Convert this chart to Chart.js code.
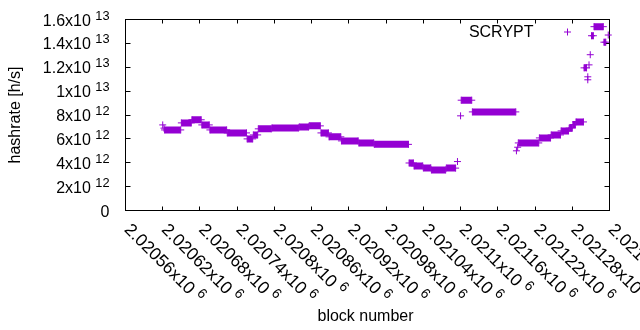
<!DOCTYPE html>
<html><head><meta charset="utf-8">
<script src="https://cdn.jsdelivr.net/npm/chart.js@4"></script>
<style>html,body{margin:0;padding:0;background:#fff}#wrap{width:640px;height:330px}canvas{display:block}</style>
</head><body>
<div id="wrap"><canvas id="c" width="640" height="330"></canvas></div>
<script>
// ---- data (hashrate in units of 1e12 h/s) ----
const seriesName = "SCRYPT";
const segStart = [2020620,2020622,2020623,2020650,2020667,2020683,2020696,2020724,2020756,2020766,
  2020774,2020796,2020840,2020856,2020875,2020888,2020908,2020936,2020961,2021017,
  2021025,2021040,2021053,2021077,2021095,2021100,2021101,2021119,2021190,2021192,
  2021193,2021227,2021246,2021262,2021275,2021281,2021286,2021299,2021305,2021305,
  2021307,2021309,2021311,2021315,2021331,2021338];
const segEnd = [2020620,2020622,2020649,2020666,2020682,2020695,2020723,2020755,2020765,2020773,
  2020795,2020839,2020855,2020874,2020887,2020907,2020935,2020960,2021016,2021024,
  2021039,2021052,2021076,2021092,2021095,2021100,2021118,2021189,2021190,2021192,
  2021226,2021245,2021261,2021274,2021280,2021285,2021298,2021303,2021305,2021305,
  2021307,2021309,2021314,2021330,2021334,2021338];
const segValue = [7.17,6.9,6.75,7.34,7.6,7.17,6.75,6.5,6.0,6.33,
  6.84,6.92,7.0,7.09,6.5,6.17,5.83,5.66,5.54,3.98,
  3.73,3.57,3.4,3.55,4.1,7.93,9.24,8.26,5.0,5.3,
  5.66,6.08,6.33,6.67,6.9,7.2,7.42,11.95,10.95,11.2,
  12.2,13.05,14.64,15.4,14.1,14.7];
const xTickValues = [2020560,2020620,2020680,2020740,2020800,2020860,2020920,2020980,2021040,2021100,2021160,2021220,2021280,2021340];
const xTickLabels = ["2.02056x10","2.02062x10","2.02068x10","2.02074x10","2.0208x10","2.02086x10","2.02092x10","2.02098x10","2.02104x10","2.0211x10","2.02116x10","2.02122x10","2.02128x10","2.02134x10"];
const xTickExp = "6";
const yTickValues = [0,2,4,6,8,10,12,14,16];
const yTickLabels = ["0","2x10","4x10","6x10","8x10","1x10","1.2x10","1.4x10","1.6x10"];
const yTickExp = ["","12","12","12","12","13","13","13","13"];
const xTitle = "block number";
const yTitle = "hashrate [h/s]";

const PURPLE = "#9400d3";
const FONT = '"Liberation Sans", Arial, sans-serif';
const FS = 16, FSS = 12.8;
const XFS = 17.5, XFSS = 14;

const points = [];
for (let i = 0; i < segStart.length; i++) {
  points.push({x: segStart[i], y: segValue[i]});
  if (segEnd[i] !== segStart[i]) points.push({x: segEnd[i], y: segValue[i]});
  points.push({x: segEnd[i], y: null});
}

const gnuplotFrame = {
  id: 'gnuplotFrame',
  beforeDatasetsDraw(chart) {
    const ctx = chart.ctx, a = chart.chartArea;
    const xs = chart.scales.x, ys = chart.scales.y;
    ctx.save();
    ctx.strokeStyle = '#000'; ctx.lineWidth = 1;
    ctx.strokeRect(a.left, a.top, a.right - a.left, a.bottom - a.top);
    ctx.beginPath();
    xTickValues.forEach(v => {
      const px = Math.floor(xs.getPixelForValue(v)) + 0.5;
      ctx.moveTo(px, a.bottom); ctx.lineTo(px, a.bottom - 4);
      ctx.moveTo(px, a.top); ctx.lineTo(px, a.top + 4);
    });
    yTickValues.forEach(v => {
      const py = Math.floor(ys.getPixelForValue(v)) + 0.5;
      ctx.moveTo(a.left, py); ctx.lineTo(a.left + 5, py);
      ctx.moveTo(a.right, py); ctx.lineTo(a.right - 5, py);
    });
    ctx.stroke();
    ctx.restore();
  },
  afterDraw(chart) {
    const ctx = chart.ctx, a = chart.chartArea;
    const xs = chart.scales.x, ys = chart.scales.y;
    ctx.save();
    ctx.fillStyle = '#000';
    // y tick labels
    yTickValues.forEach((v, i) => {
      const py = ys.getPixelForValue(v);
      const xr = a.left - 16;
      ctx.font = FSS + 'px ' + FONT;
      const we = yTickExp[i] ? ctx.measureText(yTickExp[i]).width : 0;
      if (yTickExp[i]) { ctx.textAlign = 'left'; ctx.textBaseline = 'alphabetic'; ctx.fillText(yTickExp[i], xr - we, py); }
      ctx.font = FS + 'px ' + FONT;
      const wsp = yTickExp[i] ? ctx.measureText(' ').width : 0;
      ctx.textAlign = 'right'; ctx.textBaseline = 'alphabetic';
      ctx.fillText(yTickLabels[i], xr - we - wsp, py + 6);
    });
    // x tick labels (rotated)
    xTickValues.forEach((v, i) => {
      const px = xs.getPixelForValue(v);
      ctx.save();
      ctx.translate(px - 2, a.bottom + 20);
      ctx.rotate(Math.PI / 4);
      ctx.textAlign = 'left'; ctx.textBaseline = 'alphabetic';
      ctx.font = XFS + 'px ' + FONT;
      ctx.fillText(xTickLabels[i], 0, 0);
      const w = ctx.measureText(xTickLabels[i] + ' ').width;
      ctx.font = XFSS + 'px ' + FONT;
      ctx.fillText(xTickExp, w, -6.5);
      ctx.restore();
    });
    // axis titles
    ctx.font = FS + 'px ' + FONT;
    ctx.textAlign = 'center'; ctx.textBaseline = 'alphabetic';
    ctx.fillText(xTitle, (a.left + a.right) / 2 - 2, 320.5);
    ctx.save();
    ctx.translate(20, 115);
    ctx.rotate(-Math.PI / 2);
    ctx.fillText(yTitle, 0, 0);
    ctx.restore();
    // key
    ctx.textAlign = 'right';
    ctx.fillText(seriesName, a.right - 76, a.top + 17.5);
    const kx = a.right - 42, ky = a.top + 12.5;
    ctx.strokeStyle = PURPLE; ctx.lineWidth = 1;
    ctx.beginPath();
    ctx.moveTo(kx - 3.5, ky); ctx.lineTo(kx + 3.5, ky);
    ctx.moveTo(kx, ky - 3.5); ctx.lineTo(kx, ky + 3.5);
    ctx.stroke();
    ctx.restore();
  }
};

new Chart(document.getElementById('c'), {
  type: 'line',
  data: { datasets: [{
    label: seriesName, data: points, showLine: true, spanGaps: false,
    borderColor: PURPLE, backgroundColor: PURPLE, borderWidth: 7, borderCapStyle: 'butt',
    tension: 0, fill: false, clip: 10,
    pointStyle: 'cross', pointRadius: 3.5, pointBorderWidth: 1,
    pointBorderColor: PURPLE, pointBackgroundColor: PURPLE, pointHoverRadius: 3.5
  }]},
  options: {
    responsive: false, animation: false, events: [],
    layout: { padding: { left: 125.5, top: 19.5, right: 30.5, bottom: 119.5 } },
    plugins: { legend: { display: false }, tooltip: { enabled: false } },
    scales: {
      x: { type: 'linear', min: 2020560, max: 2021340, grid: { display: false }, border: { display: false },
           ticks: { display: false }, afterFit(s) { s.height = 0; } },
      y: { type: 'linear', min: 0, max: 16, grid: { display: false }, border: { display: false },
           ticks: { display: false }, afterFit(s) { s.width = 0; } }
    }
  },
  plugins: [gnuplotFrame]
});
</script>
</body></html>
